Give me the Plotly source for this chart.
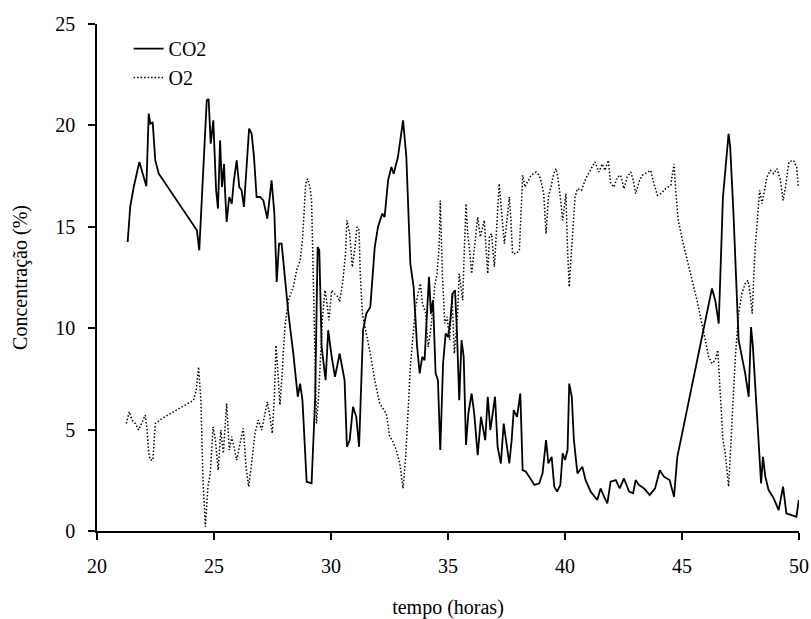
import plotly.graph_objects as go

co2_t = [21.31, 21.42, 21.57, 21.81, 22.11, 22.21, 22.28, 22.38, 22.49, 22.64,
         24.27, 24.37, 24.59, 24.69, 24.77, 24.86, 24.97, 25.09, 25.17, 25.26,
         25.34, 25.43, 25.47, 25.54, 25.65, 25.76, 25.85, 25.97, 26.08, 26.18,
         26.28, 26.40, 26.50, 26.61, 26.71, 26.82, 26.97, 27.11, 27.28, 27.46,
         27.58, 27.68, 27.78, 27.89, 28.03, 28.18, 28.39, 28.58, 28.68, 28.78,
         28.96, 29.17, 29.32, 29.43, 29.50, 29.60, 29.77, 29.88, 30.03, 30.17,
         30.37, 30.58, 30.68, 30.80, 30.94, 31.08, 31.20, 31.37, 31.51, 31.68,
         31.87, 32.01, 32.19, 32.29, 32.44, 32.58, 32.68, 32.86, 33.08, 33.22,
         33.39, 33.53, 33.68, 33.79, 33.90, 34.00, 34.10, 34.19, 34.27, 34.36,
         34.47, 34.57, 34.67, 34.79, 34.90, 35.00, 35.10, 35.20, 35.30, 35.38,
         35.48, 35.58, 35.67, 35.77, 35.87, 36.01, 36.12, 36.27, 36.41, 36.53,
         36.59, 36.70, 36.81, 36.91, 37.01, 37.12, 37.26, 37.38, 37.48, 37.62,
         37.72, 37.81, 37.95, 38.09, 38.19, 38.33, 38.47, 38.69, 38.90, 39.04,
         39.19, 39.29, 39.43, 39.54, 39.66, 39.80, 39.90, 40.00, 40.11, 40.18,
         40.29, 40.38, 40.53, 40.74, 40.88, 41.10, 41.38, 41.52, 41.67, 41.81,
         41.95, 42.17, 42.34, 42.52, 42.74, 42.91, 43.02, 43.16, 43.38, 43.62,
         43.85, 44.05, 44.23, 44.47, 44.66, 44.80, 46.28, 46.42, 46.57, 46.64,
         46.75, 46.89, 46.99, 47.06, 47.20, 47.42, 47.70, 47.85, 47.95, 48.03,
         48.21, 48.38, 48.46, 48.56, 48.70, 48.92, 49.13, 49.32, 49.46, 49.70,
         49.89, 49.99]
co2_v = [14.25, 16.0, 16.96, 18.2, 17.0, 20.58, 20.08, 20.16, 18.28, 17.62,
         14.83, 13.84, 18.93, 21.23, 21.3, 19.1, 20.25, 16.8, 15.9, 19.26,
         16.96, 18.1, 16.8, 15.24, 16.47, 16.14, 17.29, 18.28, 16.96, 16.8,
         15.98, 18.28, 19.84, 19.59, 18.44, 16.47, 16.47, 16.3, 15.4, 17.29,
         15.65, 12.28, 14.17, 14.17, 12.36, 10.72, 8.75, 6.62, 7.27, 6.45,
         2.43, 2.35, 6.45, 14.0, 13.84, 9.08, 7.44, 9.9, 8.59, 7.6,
         8.75, 7.44, 4.15, 4.48, 6.12, 5.63, 4.15, 9.9, 10.72, 11.05,
         14.0, 15.0, 15.65, 15.48, 17.29, 17.95, 17.62, 18.44, 20.25, 18.44,
         13.19, 12.04, 9.08, 7.77, 8.59, 8.42, 10.72, 12.53, 10.72, 11.38,
         7.77, 7.44, 3.99, 8.26, 9.74, 9.57, 10.39, 11.71, 11.87, 9.9,
         6.45, 9.41, 8.59, 4.24, 5.8, 6.78, 5.8, 3.74, 5.63, 4.98,
         4.48, 6.62, 4.98, 5.8, 6.62, 4.15, 3.33, 5.3, 4.48, 3.33,
         4.48, 5.96, 5.63, 6.78, 3.0, 2.92, 2.68, 2.27, 2.35, 2.84,
         4.48, 3.33, 3.66, 2.19, 1.94, 2.27, 3.83, 3.5, 3.99, 7.27,
         6.62, 4.48, 2.84, 3.17, 2.51, 1.94, 1.53, 2.1, 1.69, 1.36,
         2.43, 2.51, 2.1, 2.59, 1.94, 1.86, 2.51, 2.27, 2.1, 1.77,
         2.1, 3.0, 2.68, 2.51, 1.69, 3.66, 11.96, 11.38, 10.23, 12.69,
         16.47, 18.28, 19.59, 18.93, 15.65, 9.41, 7.77, 6.62, 10.06, 9.08,
         5.8, 2.35, 3.66, 2.68, 2.02, 1.61, 1.03, 2.19, 0.87, 0.79,
         0.7, 1.53]

o2_t = [21.25, 21.38, 21.50, 21.64, 21.78, 21.92, 22.06, 22.14, 22.21, 22.28,
        22.39, 22.49, 22.78, 23.27, 23.85, 24.13, 24.24, 24.34, 24.44, 24.53,
        24.63, 24.74, 24.84, 24.96, 25.06, 25.18, 25.29, 25.40, 25.54, 25.65,
        25.76, 25.97, 26.14, 26.25, 26.37, 26.48, 26.61, 26.75, 26.89, 27.04,
        27.18, 27.28, 27.39, 27.49, 27.58, 27.65, 27.75, 27.82, 27.92, 28.03,
        28.18, 28.39, 28.53, 28.68, 28.78, 28.86, 28.92, 29.00, 29.10, 29.17,
        29.24, 29.32, 29.38, 29.46, 29.57, 29.63, 29.74, 29.81, 29.91, 30.03,
        30.14, 30.30, 30.37, 30.51, 30.62, 30.68, 30.80, 30.91, 31.01, 31.11,
        31.20, 31.25, 31.34, 31.51, 31.68, 31.87, 32.08, 32.22, 32.36, 32.51,
        32.62, 32.79, 32.94, 33.08, 33.19, 33.29, 33.39, 33.50, 33.62, 33.72,
        33.82, 33.91, 34.05, 34.15, 34.24, 34.33, 34.43, 34.53, 34.62, 34.67,
        34.76, 34.86, 34.96, 35.07, 35.17, 35.27, 35.41, 35.48, 35.56, 35.63,
        35.70, 35.77, 35.84, 35.91, 36.01, 36.12, 36.27, 36.38, 36.55, 36.62,
        36.70, 36.77, 36.86, 36.98, 37.05, 37.12, 37.19, 37.26, 37.33, 37.41,
        37.52, 37.62, 37.69, 37.76, 37.91, 38.05, 38.12, 38.19, 38.29, 38.55,
        38.76, 38.90, 38.97, 39.09, 39.19, 39.29, 39.40, 39.52, 39.62, 39.69,
        39.80, 39.90, 39.97, 40.04, 40.11, 40.18, 40.24, 40.34, 40.43, 40.53,
        40.71, 40.88, 41.10, 41.28, 41.45, 41.59, 41.71, 41.85, 41.95, 42.09,
        42.24, 42.38, 42.52, 42.66, 42.81, 42.92, 43.02, 43.16, 43.30, 43.52,
        43.66, 43.80, 43.95, 44.09, 44.30, 44.52, 44.66, 44.73, 44.84, 45.02,
        45.16, 45.27, 45.43, 45.64, 45.85, 45.99, 46.14, 46.28, 46.42, 46.53,
        46.61, 46.69, 46.75, 46.85, 46.95, 46.99, 47.06, 47.18, 47.28, 47.42,
        47.56, 47.70, 47.82, 47.91, 48.00, 48.06, 48.13, 48.23, 48.32, 48.42,
        48.52, 48.63, 48.78, 48.92, 49.06, 49.21, 49.32, 49.42, 49.57, 49.76,
        49.90, 49.97]
o2_v = [5.3, 5.88, 5.47, 5.3, 4.98, 5.38, 5.71, 4.98, 3.83, 3.5,
        3.5, 5.3, 5.55, 5.88, 6.29, 6.45, 6.95, 8.09, 6.45, 2.51,
        0.21, 2.19, 2.84, 5.14, 4.48, 3.0, 4.98, 3.83, 6.29, 3.99,
        4.65, 3.5, 4.48, 5.06, 3.17, 2.19, 3.33, 4.81, 5.47, 4.98,
        5.8, 6.37, 5.63, 4.81, 6.62, 9.16, 7.44, 6.21, 7.93, 10.06,
        11.38, 12.04, 12.86, 13.35, 14.33, 15.98, 17.13, 17.37, 16.96, 16.3,
        12.36, 9.08, 5.3, 6.45, 8.75, 10.39, 11.87, 11.38, 10.39, 11.87,
        11.71, 11.54, 11.3, 12.36, 13.68, 15.32, 14.66, 13.02, 13.84, 14.99,
        14.83, 12.69, 10.72, 9.74, 8.75, 7.44, 6.29, 6.04, 5.8, 4.65,
        4.48, 3.99, 3.33, 2.1, 3.66, 5.8, 8.09, 9.57, 11.05, 11.71,
        12.2, 11.21, 10.72, 9.08, 9.74, 10.72, 12.04, 12.69, 14.0, 16.3,
        12.69, 10.23, 10.56, 9.41, 11.71, 8.75, 10.72, 12.69, 12.04, 11.38,
        14.0, 16.14, 14.66, 14.0, 12.69, 14.0, 15.48, 14.5, 15.32, 14.0,
        12.69, 14.5, 14.66, 13.02, 14.5, 15.98, 17.13, 16.14, 15.15, 14.17,
        15.32, 16.47, 15.32, 13.68, 13.68, 13.84, 15.65, 17.54, 16.96, 17.54,
        17.7, 17.54, 17.29, 16.63, 14.66, 16.47, 16.96, 17.62, 17.87, 17.46,
        16.47, 15.32, 15.98, 16.63, 13.84, 12.04, 13.19, 15.15, 16.47, 16.88,
        16.8, 17.37, 17.87, 18.2, 17.7, 18.1, 17.78, 18.28, 17.13, 16.96,
        17.46, 17.54, 16.88, 17.46, 17.7, 17.29, 16.63, 17.21, 17.54, 17.7,
        17.78, 17.13, 16.55, 16.63, 16.88, 17.05, 18.1, 16.8, 15.32, 14.33,
        13.68, 13.19, 12.36, 11.38, 10.23, 9.41, 8.59, 8.26, 8.42, 8.92,
        7.44, 5.8, 4.48, 3.83, 2.84, 2.19, 3.66, 6.62, 8.59, 10.72,
        11.71, 12.2, 12.36, 11.71, 10.72, 12.36, 14.0, 15.48, 16.8, 16.14,
        16.8, 17.46, 17.78, 17.62, 17.87, 17.29, 16.3, 16.96, 18.2, 18.28,
        17.95, 16.96]

x_ticks = [20, 25, 30, 35, 40, 45, 50]
y_ticks = [0, 5, 10, 15, 20, 25]

FONT = "Liberation Serif"

fig = go.Figure()
fig.add_trace(go.Scatter(x=co2_t, y=co2_v, mode="lines", name="CO2",
                         line=dict(color="black", width=1.8)))
fig.add_trace(go.Scatter(x=o2_t, y=o2_v, mode="lines", name="O2",
                         line=dict(color="black", width=1.5, dash="1.5px,2px")))

axis_common = dict(showline=True, linecolor="black", linewidth=1.5,
                   ticks="outside", ticklen=7, tickwidth=1.5, tickcolor="black",
                   showgrid=False, zeroline=False, automargin=False,
                   ticklabelstandoff=9,
                   tickfont=dict(family=FONT, size=20, color="black"))

fig.update_layout(
    width=811, height=619,
    margin=dict(l=97, r=12, t=24, b=88),
    paper_bgcolor="white", plot_bgcolor="white",
    font=dict(family=FONT, size=19, color="black"),
    xaxis=dict(range=[20, 50], tickvals=x_ticks, ticktext=[str(v) for v in x_ticks],
               title=dict(text="tempo (horas)", font=dict(family=FONT, size=20), standoff=24),
               **axis_common),
    yaxis=dict(range=[0, 25], tickvals=y_ticks, ticktext=[str(v) for v in y_ticks],
               title=dict(text="Concentração (%)", font=dict(family=FONT, size=20), standoff=22),
               **axis_common),
    legend=dict(x=0.045, y=0.99, xanchor="left", yanchor="top",
                bgcolor="rgba(0,0,0,0)", font=dict(family=FONT, size=20),
                tracegroupgap=0),
    showlegend=True,
)

fig.write_html("out.html")
